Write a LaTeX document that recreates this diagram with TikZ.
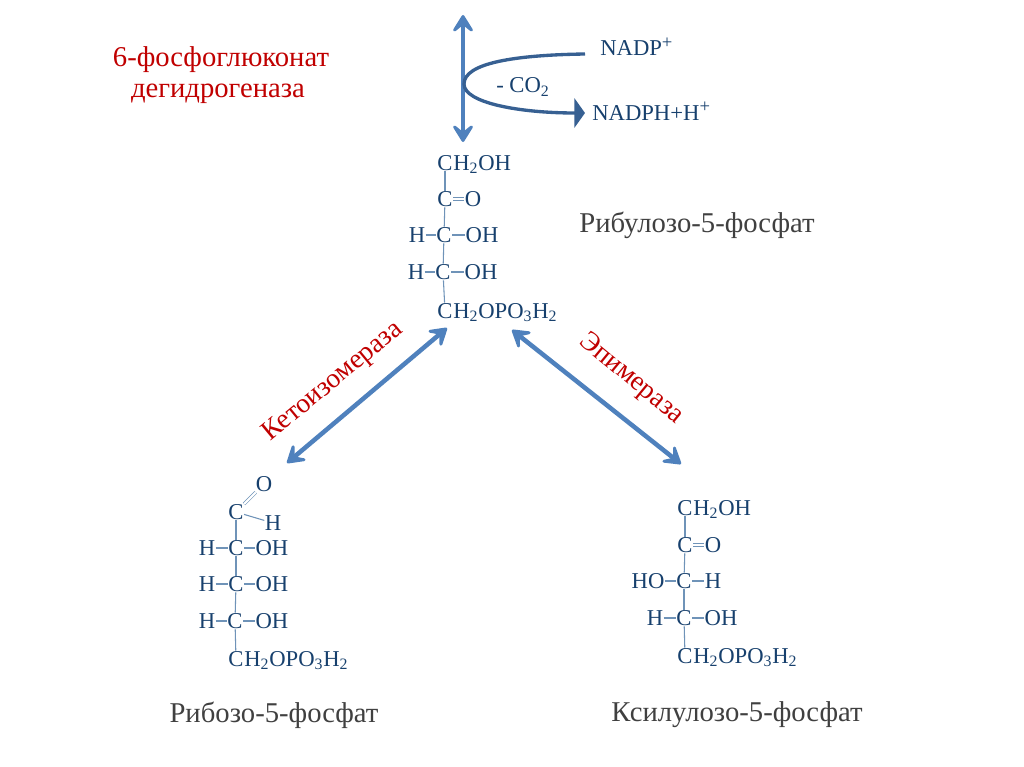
\documentclass[tikz,border=0pt]{standalone}
\usepackage{fontspec}
\setmainfont{Liberation Serif}
\usetikzlibrary{arrows.meta}
\definecolor{chemblue}{HTML}{17406D}
\definecolor{bondblue}{HTML}{6F93B8}
\definecolor{arrowblue}{HTML}{4F81BD}
\definecolor{curveblue}{HTML}{376092}
\definecolor{enzred}{HTML}{C00000}
\definecolor{namegray}{HTML}{404040}
\newcommand{\plusmark}{\raisebox{5.5pt}{\fontsize{14}{14}\selectfont +}}
\tikzset{
	atom/.style={text=chemblue,font=\fontsize{17}{20}\selectfont,inner xsep=0.2pt,inner ysep=0.4pt,text height=11.3pt,text depth=0pt},
	tail/.style={text=chemblue,font=\fontsize{17}{20}\selectfont,inner sep=0pt,anchor=base west},
	bond/.style={bondblue,line width=0.8pt},
	dbond/.style={bondblue,line width=0.5pt,double=white,double distance=1.6pt},
	compound/.style={text=namegray,font=\fontsize{21.5}{26}\selectfont,inner sep=0pt},
	enzyme/.style={text=enzred,font=\fontsize{21.5}{23.5}\selectfont,inner sep=0pt,align=center},
	slanted/.style={text=enzred,font=\fontsize{20.7}{23}\selectfont,inner sep=0pt},
	cofactor/.style={text=chemblue,font=\fontsize{17}{20}\selectfont,inner sep=0pt,anchor=base west},
	biarrow/.style={arrowblue,line width=3.4pt,{Stealth[length=17pt,width=21pt,inset=8.5pt,round]}-{Stealth[length=17pt,width=21pt,inset=8.5pt,round]}},
	curve/.style={curveblue,line width=2.5pt,-{Triangle[length=8pt,width=22pt]}}
}
\begin{document}
\begin{tikzpicture}[x=0.75pt,y=-0.75pt]
	\useasboundingbox (0,0) rectangle (1024,767);
	% enzyme and cofactors at the top
	\node[enzyme] (dehydrogenase) at (221,75) {6-фосфоглюконат\\дегидрогеназа\hspace*{4.5pt}};
	\coordinate (uptip) at (463,15);
	\coordinate (downtip) at (463,142);
	\coordinate (nadpend) at (585,54);
	\coordinate (nadphend) at (585,113);
	\coordinate (bend) at (464,84);
	\draw[biarrow] (uptip) -- (downtip);
	\draw[curve] (nadpend) .. controls (515,55) and (464,63) .. (bend) .. controls (464,103) and (520,113) .. (nadphend);
	\node[cofactor] (nadp) at (600,56) {NADP\plusmark};
	\node[cofactor] (nadph) at (592,120) {NADPH+H\plusmark};
	\node[cofactor] (co) at (496,93) {- CO\textsubscript{2}};

	% ribulose
	\node[atom] (ru1) at (445,163) {C};
	\node[tail] (ru1t) at (ru1.base east) {H\textsubscript{2}OH};
	\node[atom] (ru2) at (445,199) {C};
	\node[atom] (ru2o) at (473,199) {O};
	\node[atom] (ru3) at (444,235) {C};
	\node[atom] (ru3h) at (417,235) {H};
	\node[atom] (ru3o) at (482,235) {OH};
	\node[atom] (ru4) at (443,272) {C};
	\node[atom] (ru4h) at (416,272) {H};
	\node[atom] (ru4o) at (481,272) {OH};
	\node[atom] (ru5) at (445,311) {C};
	\node[tail] (ru5t) at (ru5.base east) {H\textsubscript{2}OPO\textsubscript{3}H\textsubscript{2}};
	\draw[bond] (ru1)--(ru2);
	\draw[dbond] (ru2)--(ru2o);
	\draw[bond] (ru2)--(ru3);
	\draw[bond] (ru3)--(ru4);
	\draw[bond] (ru4)--(ru5);
	\draw[bond] (ru3h)--(ru3);
	\draw[bond] (ru3)--(ru3o);
	\draw[bond] (ru4h)--(ru4);
	\draw[bond] (ru4)--(ru4o);
	\node[compound] (runame) at (697,225) {Рибулозо-5-фосфат};

	% ribose
	\node[atom] (ri0) at (264,484) {O};
	\node[atom] (ri1) at (236,512) {C};
	\node[atom] (ri1h) at (273,523) {H};
	\node[atom] (ri2) at (236,548) {C};
	\node[atom] (ri2h) at (207,548) {H};
	\node[atom] (ri2o) at (272,548) {OH};
	\node[atom] (ri3) at (236,584) {C};
	\node[atom] (ri3h) at (207,584) {H};
	\node[atom] (ri3o) at (272,584) {OH};
	\node[atom] (ri4) at (235,621) {C};
	\node[atom] (ri4h) at (207,621) {H};
	\node[atom] (ri4o) at (272,621) {OH};
	\node[atom] (ri5) at (236,659) {C};
	\node[tail] (ri5t) at (ri5.base east) {H\textsubscript{2}OPO\textsubscript{3}H\textsubscript{2}};
	\draw[dbond] (ri1)--(ri0);
	\draw[bond] (ri1)--(ri1h);
	\draw[bond] (ri1)--(ri2);
	\draw[bond] (ri2)--(ri3);
	\draw[bond] (ri3)--(ri4);
	\draw[bond] (ri4)--(ri5);
	\draw[bond] (ri2h)--(ri2);
	\draw[bond] (ri2)--(ri2o);
	\draw[bond] (ri3h)--(ri3);
	\draw[bond] (ri3)--(ri3o);
	\draw[bond] (ri4h)--(ri4);
	\draw[bond] (ri4)--(ri4o);
	\node[compound] (riname) at (274,715) {Рибозо-5-фосфат};

	% xylulose
	\node[atom] (xu1) at (685,508) {C};
	\node[tail] (xu1t) at (xu1.base east) {H\textsubscript{2}OH};
	\node[atom] (xu2) at (685,545) {C};
	\node[atom] (xu2o) at (713,545) {O};
	\node[atom] (xu3) at (684,581) {C};
	\node[atom] (xu3h) at (713,581) {H};
	\node[atom] (xu3o) at (648,581) {HO};
	\node[atom] (xu4) at (684,618) {C};
	\node[atom] (xu4h) at (655,618) {H};
	\node[atom] (xu4o) at (721,618) {OH};
	\node[atom] (xu5) at (685,656) {C};
	\node[tail] (xu5t) at (xu5.base east) {H\textsubscript{2}OPO\textsubscript{3}H\textsubscript{2}};
	\draw[bond] (xu1)--(xu2);
	\draw[dbond] (xu2)--(xu2o);
	\draw[bond] (xu2)--(xu3);
	\draw[bond] (xu3)--(xu4);
	\draw[bond] (xu4)--(xu5);
	\draw[bond] (xu3o)--(xu3);
	\draw[bond] (xu3)--(xu3h);
	\draw[bond] (xu4h)--(xu4);
	\draw[bond] (xu4)--(xu4o);
	\node[compound] (xuname) at (737,715) {Ксилулозо-5-фосфат};

	% arrows between the compounds
	\coordinate (ritip) at (287,463);
	\coordinate (xutip) at (681,464);
	\coordinate (ruleft) at (447,328);
	\coordinate (ruright) at (512,330);
	\draw[biarrow] (ruleft) -- (ritip);
	\draw[biarrow] (ruright) -- (xutip);
	\node[slanted,rotate=39.5] (isomerase) at (333,382) {Кетоизомераза};
	\node[slanted,rotate=-39.5] (epimerase) at (631,379) {Эпимераза};
\end{tikzpicture}
\end{document}
